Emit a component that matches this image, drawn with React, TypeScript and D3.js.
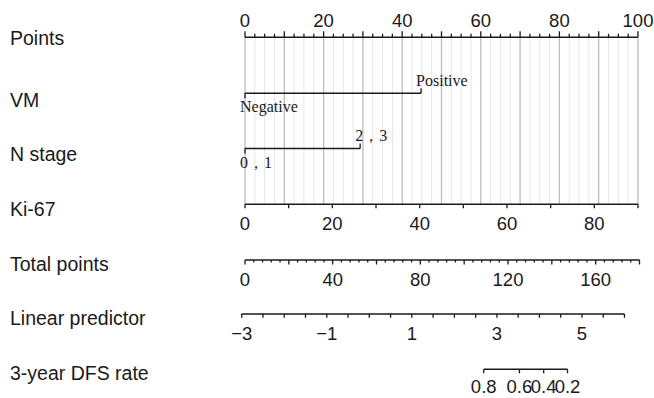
import React, { useEffect, useRef } from 'react';
import * as d3 from 'd3';

// row labels, top to bottom
const rowLabels = ['Points', 'VM', 'N stage', 'Ki-67', 'Total points', 'Linear predictor', '3-year DFS rate'];

// categorical predictors: level names and their points
const vmLevels = ['Negative', 'Positive'];
const vmPoints = [0, 44.8];
const nStageLevels = ['0，1', '2，3'];
const nStagePoints = [0, 29.3];

// continuous predictor Ki-67 (0..90 maps to 0..100 points)
const ki67Domain = [0, 90];
const ki67Labels = [0, 20, 40, 60, 80];

// axes
const pointsLabels = [0, 20, 40, 60, 80, 100];
const totalDomain = [0, 180];
const totalLabels = [0, 40, 80, 120, 160];
const lpDomain = [-3, 6];
const lpLabels = [-3, -1, 1, 3, 5];
const dfsLabels = ['0.8', '0.6', '0.4', '0.2'];
const dfsLp = [2.69, 3.53, 4.1, 4.66];

const W = 654;
const H = 398;

const App: React.FC = () => {
  const svgRef = useRef<SVGSVGElement>(null);

  useEffect(() => {
    if (!svgRef.current) return;
    const svg = d3.select(svgRef.current);
    svg.selectAll('*').remove();

    const ink = '#1a1a1a';
    const sans = '"Liberation Sans", Arial, Helvetica, sans-serif';
    const serif = '"Liberation Serif", "Times New Roman", serif';

    // y of each row's axis line
    const rowY = d3.scaleOrdinal<string, number>()
      .domain(rowLabels)
      .range([37.3, 93.3, 148.5, 204.3, 260, 314, 369.3]);
    // baseline of each row's left label
    const labelY = d3.scaleOrdinal<string, number>()
      .domain(rowLabels)
      .range([45, 106.7, 160.7, 216, 270.7, 325, 380]);

    const x = d3.scaleLinear().domain([0, 100]).range([245, 638]);
    const xKi = d3.scaleLinear().domain(ki67Domain).range([x(0), x(100)]);
    const xTotal = d3.scaleLinear().domain(totalDomain).range([245, 639.5]);
    const xLp = d3.scaleLinear().domain(lpDomain).range([241.7, 624.5]);

    // vertical grid between Points and Ki-67
    const grid = d3.range(0, 100.01, 2.5);
    svg.append('g')
      .selectAll('line')
      .data(grid)
      .join('line')
      .attr('x1', d => x(d)).attr('x2', d => x(d))
      .attr('y1', rowY('Points')).attr('y2', rowY('Ki-67'))
      .attr('stroke', d => (d % 10 === 0 ? '#bcbcbc' : '#e6e6e6'))
      .attr('stroke-width', d => (d % 10 === 0 ? 1.3 : 1));

    // left labels
    svg.append('g')
      .selectAll('text')
      .data(rowLabels)
      .join('text')
      .attr('x', 10)
      .attr('y', d => labelY(d))
      .attr('font-family', sans)
      .attr('font-size', 19.5)
      .attr('fill', ink)
      .text(d => d);

    const hline = (g: d3.Selection<SVGGElement, unknown, null, undefined>, x0: number, x1: number, y: number) =>
      g.append('line').attr('x1', x0).attr('x2', x1).attr('y1', y).attr('y2', y)
        .attr('stroke', ink).attr('stroke-width', 1.5);

    const ticks = (g: d3.Selection<SVGGElement, unknown, null, undefined>, xs: number[], y: number, len: (i: number) => number) =>
      g.append('g').selectAll('line').data(xs).join('line')
        .attr('x1', d => d).attr('x2', d => d)
        .attr('y1', y).attr('y2', (_, i) => y + len(i))
        .attr('stroke', ink).attr('stroke-width', 1.3);

    const tickLabels = (g: d3.Selection<SVGGElement, unknown, null, undefined>, xs: number[], texts: string[], y: number) =>
      g.append('g').selectAll('text').data(xs).join('text')
        .attr('x', d => d).attr('y', y)
        .attr('text-anchor', 'middle')
        .attr('font-family', sans).attr('font-size', 18.5)
        .attr('fill', ink)
        .text((_, i) => texts[i]);

    // Points axis (ticks up, labels above)
    const gP = svg.append('g');
    const yP = rowY('Points');
    hline(gP, x(0), x(100), yP);
    const pTicks = d3.range(0, 100.01, 2.5);
    ticks(gP, pTicks.map(d => x(d)), yP, i => (pTicks[i] % 10 === 0 ? -6 : -3.5));
    tickLabels(gP, pointsLabels.map(d => x(d)), pointsLabels.map(String), yP - 10.5);

    // categorical rows
    const catRow = (name: string, levels: string[], pts: number[]) => {
      const g = svg.append('g');
      const y = rowY(name);
      hline(g, x(pts[0]), x(pts[1]), y);
      g.append('line').attr('x1', x(pts[0])).attr('x2', x(pts[0]))
        .attr('y1', y).attr('y2', y + 5).attr('stroke', ink).attr('stroke-width', 1.3);
      g.append('line').attr('x1', x(pts[1])).attr('x2', x(pts[1]))
        .attr('y1', y).attr('y2', y - 5).attr('stroke', ink).attr('stroke-width', 1.3);
      g.selectAll('text').data(levels).join('text')
        .attr('x', (_, i) => x(pts[i]) - 5)
        .attr('y', (_, i) => (i === 0 ? y + 19 : y - 7.5))
        .attr('font-family', serif).attr('font-size', 16)
        .attr('fill', ink)
        .text(d => d);
    };
    catRow('VM', vmLevels, vmPoints);
    catRow('N stage', nStageLevels, nStagePoints);

    // Ki-67
    const gK = svg.append('g');
    const yK = rowY('Ki-67');
    hline(gK, xKi(ki67Domain[0]), xKi(ki67Domain[1]), yK);
    ticks(gK, d3.range(0, 90.01, 10).map(d => xKi(d)), yK, () => 4);
    tickLabels(gK, ki67Labels.map(d => xKi(d)), ki67Labels.map(String), yK + 26);

    // Total points
    const gT = svg.append('g');
    const yT = rowY('Total points');
    hline(gT, xTotal(0), xTotal(180), yT);
    const tTicks = d3.range(0, 180.01, 4);
    ticks(gT, tTicks.map(d => xTotal(d)), yT, i => (tTicks[i] % 20 === 0 ? 4.5 : 2.5));
    tickLabels(gT, totalLabels.map(d => xTotal(d)), totalLabels.map(String), yT + 25.5);

    // Linear predictor
    const gL = svg.append('g');
    const yL = rowY('Linear predictor');
    hline(gL, xLp(-3), xLp(6), yL);
    ticks(gL, d3.range(-3, 6.01, 0.5).map(d => xLp(d)), yL, () => 3.8);
    tickLabels(gL, lpLabels.map(d => xLp(d)), lpLabels.map(d => (d < 0 ? '\u2212' + Math.abs(d) : String(d))), yL + 25.5);

    // 3-year DFS rate
    const gD = svg.append('g');
    const yD = rowY('3-year DFS rate');
    hline(gD, xLp(dfsLp[0]), xLp(dfsLp[dfsLp.length - 1]), yD);
    ticks(gD, dfsLp.map(d => xLp(d)), yD, () => 4);
    tickLabels(gD, dfsLp.map(d => xLp(d)), dfsLabels, yD + 23.5);
  }, []);

  return (
    <svg
      ref={svgRef}
      width={W}
      height={H}
      style={{ position: 'absolute', left: 0, top: 0, background: '#fff', display: 'block' }}
    />
  );
};

export default App;
